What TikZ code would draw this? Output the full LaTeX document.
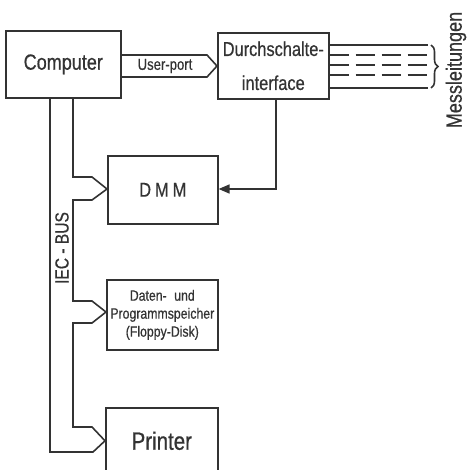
\documentclass[tikz,border=0pt]{standalone}
\usepackage{fontspec}
\setmainfont{Liberation Sans}[FakeStretch=0.82, FakeBold=0.6]
\usetikzlibrary{arrows.meta,decorations.pathreplacing}

\tikzset{
  block/.style={draw=ink, line width=1.6pt, inner sep=0pt, anchor=north west, align=center},
  wire/.style={draw=ink, line width=1.6pt, line join=miter},
  dashwire/.style={wire, dash pattern=on 19pt off 7pt},
}
\colorlet{ink}{black!80}

\begin{document}
\begin{tikzpicture}[x=1pt, y=-1pt, text=ink]
        \useasboundingbox (0,0) rectangle (467,470);

        % Blocks
        \node[block, minimum width=115pt, minimum height=67pt, font=\fontsize{22}{24}\selectfont] (comp) at (5,30) {Computer};
        \node[block, minimum width=111pt, minimum height=66pt, font=\fontsize{20}{34}\selectfont] (dsi) at (217,32) {Durchschalte-\\interface};
        \node[block, minimum width=110pt, minimum height=68pt, font=\fontsize{20}{22}\selectfont] (dmm) at (107,155) {D\hspace{4pt}M\hspace{4pt}M};
        \node[block, minimum width=111pt, minimum height=70pt, font=\fontsize{15}{18}\selectfont] (mem) at (106,279) {Daten-\enspace und\\Programmspeicher\\(Floppy-Disk)};
        % Printer runs past the bottom edge
        \node[block, minimum width=112pt, minimum height=66pt, font=\fontsize{25}{27}\selectfont] (prn) at (105,407) {Printer};

        % User-port (hollow arrow)
        \draw[wire] (comp.east |- 0,55) -- (207,55) -- (dsi.west |- 0,66) -- (207,77) -- (comp.east |- 0,77);
        \node[font=\fontsize{16}{18}\selectfont] (up) at (165,66) {User-port};

        % Messleitungen
        \foreach \y/\s in {45/wire, 55/dashwire, 65/dashwire, 75/dashwire, 88/wire}
          \draw[\s] (dsi.east |- 0,\y) -- (428,\y);
        \draw[wire, decorate, decoration={brace, amplitude=7pt}] (431,45) -- (431,88);
        \node[rotate=90, font=\fontsize{22}{24}\selectfont] (ml) at (456,70) {Messleitungen};

        % Durchschalte -> DMM
        \coordinate (knee) at (276,189);
        \draw[wire, -{Triangle[length=11pt, width=9pt]}] (dsi.south -| knee) -- (knee) -- (dmm.east |- knee);

        % IEC-Bus
        \draw[wire] (comp.south -| 50,0) -- (50,452) -- (93,452) -- (prn.west);
        \draw[wire] (comp.south -| 73,0) -- (73,177) -- (92,177) -- (dmm.west |- 0,189) -- (92,200) -- (73,200)
          -- (73,301) -- (92,301) -- (mem.west |- 0,312) -- (92,323) -- (73,323)
          -- (73,427) -- (92,427) -- (prn.west);
        \node[rotate=90, font=\fontsize{19}{21}\selectfont] (bus) at (62,248) {IEC - BUS};
    \end{tikzpicture}
\end{document}
